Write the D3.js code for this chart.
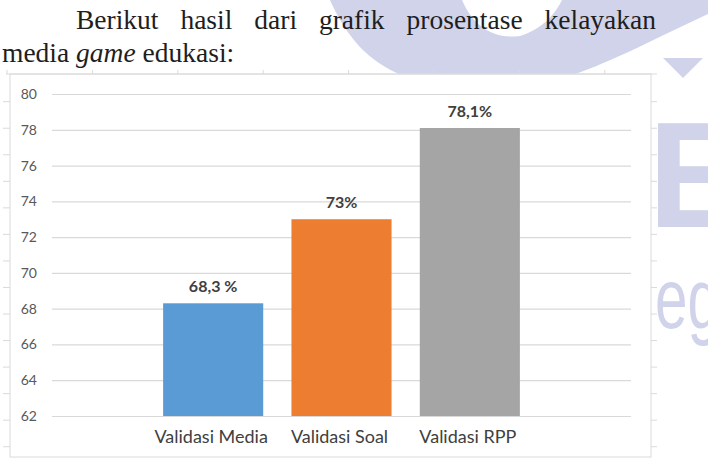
<!DOCTYPE html>
<html>
<head>
<meta charset="utf-8">
<script src="https://cdn.jsdelivr.net/npm/d3@7"></script>
<style>
  body { margin: 0; background: #fff; }
  svg { display: block; }
</style>
</head>
<body>
<svg id="page" width="708" height="458"></svg>
<script>
// chart data
const categories = ["Validasi Media", "Validasi Soal", "Validasi RPP"];
const values = [68.3, 73, 78.1];
const valueLabels = ["68,3 %", "73%", "78,1%"];
const barColors = ["#5b9bd5", "#ed7d31", "#a5a5a5"];
const yTicks = [62, 64, 66, 68, 70, 72, 74, 76, 78, 80];

// paragraph text above the chart
const introWords = ["Berikut", "hasil", "dari", "grafik", "prosentase", "kelayakan"];

let svg = d3.select("#page");
let lavender = "#d0d3ea";

// watermark behind everything
let mark = svg.append("g").attr("fill", lavender);
mark.append("path")
    .attr("d", "M330,0 L462,0 C472,24 492,40 520,36 C545,28 556,12 562,0 L708,0 L708,14 " +
               "C660,36 612,62 572,75 L402,75 C368,62 346,36 330,0 Z");
mark.append("path").attr("d", "M663,58 L703,58 L683,78 Z");
mark.append("text")
    .attr("x", 648).attr("y", 227)
    .attr("font-family", "Liberation Sans").attr("font-weight", "bold")
    .attr("font-size", 150)
    .text("E");
mark.append("text")
    .attr("transform", "translate(655,328) scale(0.68,1)")
    .attr("font-family", "Liberation Sans")
    .attr("font-size", 86)
    .text("eg");

// intro paragraph, first line justified
let serif = "'Liberation Serif', 'Times New Roman', serif";
let fontSize = 27.5;
let line1 = svg.append("g")
    .attr("font-family", serif)
    .attr("font-size", fontSize)
    .attr("fill", "#1e1e1e");
let words = line1.selectAll("text")
    .data(introWords)
    .join("text")
    .attr("y", 29)
    .text(d => d);
let widths = [];
words.each(function() { widths.push(this.getComputedTextLength()); });
let lineStart = 76, lineEnd = 656;
let gap = (lineEnd - lineStart - d3.sum(widths)) / (introWords.length - 1);
let cursor = lineStart;
words.attr("x", (d, i) => {
    let x = cursor;
    cursor += widths[i] + gap;
    return x;
});

let line2 = svg.append("text")
    .attr("x", 2).attr("y", 62)
    .attr("font-family", serif)
    .attr("font-size", fontSize)
    .attr("fill", "#1e1e1e");
line2.append("tspan").text("media ");
line2.append("tspan").attr("font-style", "italic").text("game");
line2.append("tspan").text(" edukasi:");

// document frame of the embedded chart (ruler ticks)
let frameColor = "#dadada";
let frame = svg.append("g").attr("stroke", frameColor).attr("fill", "none");
frame.append("rect")
    .attr("x", 10).attr("y", 74)
    .attr("width", 641).attr("height", 383)
    .attr("fill", "#fff");
frame.append("line")
    .attr("x1", 6).attr("x2", 657)
    .attr("y1", 74).attr("y2", 74);
d3.range(8).forEach(i => {
    let x = 7 + i * 85.4;
    frame.append("line")
        .attr("x1", x).attr("x2", x)
        .attr("y1", 70).attr("y2", 74);
});
d3.range(14).forEach(i => {
    let y = 101.7 + i * 26.54;
    frame.append("line").attr("x1", 3).attr("x2", 10).attr("y1", y).attr("y2", y);
    frame.append("line").attr("x1", 651).attr("x2", 657).attr("y1", y).attr("y2", y);
});

// chart scales
let y = d3.scaleLinear()
    .domain([62, 80])
    .range([416, 94]);

let x = d3.scaleBand()
    .domain(categories)
    .range([149, 534])
    .paddingInner(0.22)
    .paddingOuter(0.11);

let chartFont = "Lato, 'Open Sans', sans-serif";

// gridlines
let yAxis = d3.axisLeft(y)
    .tickValues(yTicks)
    .tickSize(-(631 - 52))
    .tickPadding(15)
    .tickFormat(d => d);
let yAxisG = svg.append("g")
    .attr("transform", "translate(52,0)")
    .call(yAxis);
yAxisG.select(".domain").remove();
yAxisG.selectAll(".tick line")
    .attr("stroke", "#d9d9d9")
    .attr("stroke-width", 1.2);
yAxisG.selectAll(".tick text")
    .attr("font-family", chartFont)
    .attr("font-size", 14)
    .attr("fill", "#595959");

// bars
svg.append("g")
    .selectAll("rect")
    .data(values)
    .join("rect")
    .attr("x", (d, i) => x(categories[i]))
    .attr("y", d => y(d))
    .attr("width", x.bandwidth())
    .attr("height", d => y(62) - y(d))
    .attr("fill", (d, i) => barColors[i]);

// value labels
svg.append("g")
    .selectAll("text")
    .data(values)
    .join("text")
    .attr("x", (d, i) => x(categories[i]) + x.bandwidth() / 2)
    .attr("y", d => y(d) - 11)
    .attr("text-anchor", "middle")
    .attr("font-family", chartFont)
    .attr("font-weight", "bold")
    .attr("font-size", 16)
    .attr("fill", "#404040")
    .text((d, i) => valueLabels[i]);

// category axis labels
let xAxis = d3.axisBottom(x).tickSize(0).tickPadding(0);
let xAxisG = svg.append("g")
    .attr("transform", "translate(-2,430)")
    .call(xAxis);
xAxisG.select(".domain").remove();
xAxisG.selectAll(".tick text")
    .attr("dy", "0.71em")
    .attr("font-family", chartFont)
    .attr("font-size", 18)
    .attr("fill", "#404040");
</script>
</body>
</html>
